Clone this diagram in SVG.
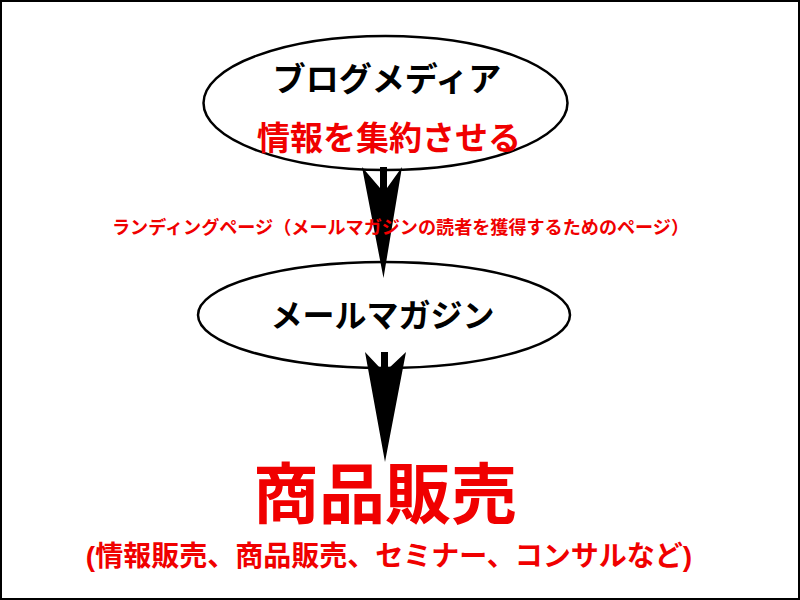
<svg xmlns="http://www.w3.org/2000/svg" width="800" height="600" viewBox="0 0 800 600">
<style>
.node{fill:#fff;stroke:#000;stroke-width:2.5}
.t{font-family:"Liberation Sans","Noto Sans CJK JP",sans-serif;font-weight:bold;text-anchor:middle}
.blk{fill:#000}
.red{fill:#f00000}
.arrow{fill:#000}
</style>
<rect x="1" y="1" width="798" height="598" fill="#fff" stroke="#000" stroke-width="2"/>
<g id="node-blog">
<ellipse class="node" cx="385.5" cy="103" rx="182" ry="67"/>
<text class="t blk" x="387" y="91" font-size="33">ブログメディア</text>
<text class="t red" x="389" y="150" font-size="33">情報を集約させる</text>
</g>
<g id="node-mail">
<ellipse class="node" cx="384" cy="315" rx="186" ry="53"/>
<text class="t blk" x="382.5" y="327" font-size="32">メールマガジン</text>
</g>
<g id="connectors">
<polygon class="arrow" points="380,167 387,167 387,188 402,167 383.5,278 362,167 380,188"/>
<polygon class="arrow" points="381,352 388,352 388,369 406,352 385,462 365,352 381,369"/>
</g>
<g id="label-landing">
<text class="t red" x="400.5" y="234" font-size="18.1">ランディングページ（メールマガジンの読者を獲得するためのページ）</text>
</g>
<g id="node-sales">
<text class="t red" x="385" y="518" font-size="66">商品販売</text>
<text class="t red" x="389" y="566" font-size="28">(情報販売、商品販売、セミナー、コンサルなど)</text>
</g>
</svg>
